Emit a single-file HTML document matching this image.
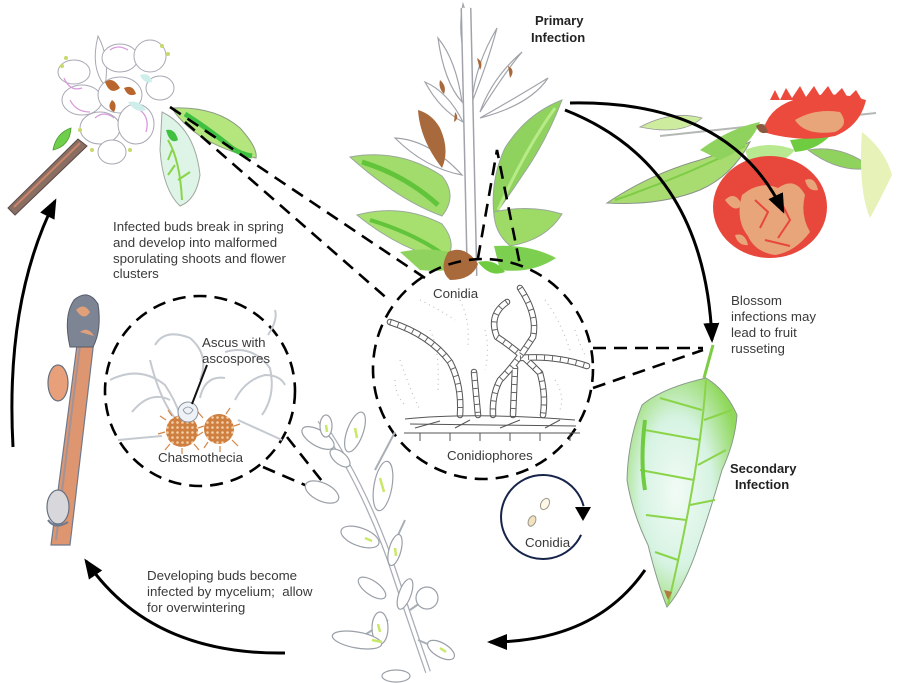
<!DOCTYPE html>
<html><head><meta charset="utf-8">
<style>
html,body{margin:0;padding:0;background:#fff;}
svg{display:block}
text{font-family:"Liberation Sans",Arial,sans-serif;}
.t{font-size:13.3px;fill:#3a3a3a}
.b{font-size:13px;font-weight:bold;fill:#222}
</style></head><body>
<svg width="900" height="683" viewBox="0 0 900 683" xmlns="http://www.w3.org/2000/svg">
<defs>
<marker id="ah" viewBox="0 0 20 16" refX="17" refY="8" markerWidth="20" markerHeight="16" markerUnits="userSpaceOnUse" orient="auto"><path d="M0,0 L20,8 L0,16 z" fill="#000"/></marker>
<pattern id="dots" width="5" height="5" patternUnits="userSpaceOnUse"><rect width="5" height="5" fill="#cf8040"/><circle cx="2.5" cy="2.5" r="1.3" fill="#f3cfa6"/></pattern>
<radialGradient id="leafg" cx="0.45" cy="0.5" r="0.6"><stop offset="0" stop-color="#f2fbf6"/><stop offset="0.55" stop-color="#d6f3e2"/><stop offset="1" stop-color="#8fd85a"/></radialGradient>
</defs>

<!-- ===== Top-left flower cluster ===== -->
<path d="M8,208 L78,139 L87,146 L15,215 Z" fill="#8a6e62" stroke="#5a4a48" stroke-width="1"/>
<path d="M14,207 L80,143" stroke="#c9846a" stroke-width="2"/>
<path d="M53,150 Q56,133 71,128 Q70,146 53,150Z" fill="#6fcf4a" stroke="#4a9a30" stroke-width="0.8"/>
<g fill="#fff" stroke="#a8a8b4" stroke-width="1">
<path d="M98,36 Q110,58 105,86 Q90,68 98,36Z"/>
<ellipse cx="74" cy="72" rx="16" ry="12"/>
<ellipse cx="120" cy="58" rx="18" ry="14"/>
<ellipse cx="150" cy="56" rx="16" ry="16"/>
<ellipse cx="160" cy="88" rx="14" ry="12"/>
<ellipse cx="82" cy="100" rx="20" ry="15"/>
<ellipse cx="120" cy="95" rx="22" ry="18"/>
<ellipse cx="100" cy="128" rx="20" ry="16"/>
<ellipse cx="136" cy="124" rx="18" ry="20"/>
<ellipse cx="112" cy="152" rx="14" ry="12"/>
</g>
<g fill="none" stroke="#d99adc" stroke-width="1.3">
<path d="M64,78 Q70,92 82,88"/><path d="M110,50 Q118,44 128,50"/><path d="M95,118 Q104,110 114,118"/><path d="M140,110 Q150,118 146,132"/><path d="M70,100 Q76,112 90,112"/>
</g>
<path d="M105,82 Q113,76 120,88 Q110,96 105,82Z" fill="#b8662e"/>
<path d="M124,88 Q133,84 136,94 Q128,98 124,88Z" fill="#b8662e"/>
<path d="M112,100 Q118,104 114,112 Q106,108 112,100Z" fill="#b8662e"/>
<path d="M128,102 Q140,100 146,110 Q136,114 128,102Z" fill="#cdeeea"/>
<path d="M140,75 Q150,72 152,82 Q144,84 140,75Z" fill="#cdeeea"/>
<g fill="#c9d86a"><circle cx="62" cy="66" r="2"/><circle cx="66" cy="58" r="2"/><circle cx="162" cy="46" r="2"/><circle cx="168" cy="54" r="2"/><circle cx="130" cy="150" r="2"/><circle cx="92" cy="150" r="2"/><circle cx="80" cy="130" r="2"/></g>
<path d="M162,112 Q195,128 200,175 Q196,200 180,206 Q163,190 160,150 Z" fill="#ddf4e6" stroke="#a0a8a0" stroke-width="1"/>
<path d="M168,140 Q180,160 182,200 M175,165 L168,175 M178,180 L190,172 M172,150 L168,160" stroke="#8ad44a" stroke-width="2" fill="none"/>
<path d="M166,130 Q175,128 178,140 Q170,145 166,130Z" fill="#3fc040"/>
<path d="M172,108 Q215,106 240,128 Q258,148 256,158 Q226,152 200,136 Q180,122 172,108Z" fill="#b5e67e" stroke="#8a9a80" stroke-width="1"/>
<path d="M185,114 Q210,130 232,148 Q240,154 252,156" stroke="#3fc040" stroke-width="5" fill="none"/>

<!-- ===== Primary infection shoot ===== -->
<g fill="#fff" stroke="#a0a4aa" stroke-width="1.2">
<path d="M463,4 Q472,30 467,62 Q457,35 463,4Z"/>
<path d="M438,38 Q456,60 462,102 Q444,82 438,38Z"/>
<path d="M497,28 Q488,62 472,102 Q475,65 497,28Z"/>
<path d="M425,82 Q448,92 463,122 Q440,110 425,82Z"/>
<path d="M522,52 Q505,72 480,112 Q492,78 522,52Z"/>
<path d="M480,118 Q512,100 548,78 Q530,105 480,118Z"/>
<path d="M395,138 Q430,140 462,175 Q425,168 395,138Z"/>
<path d="M505,150 Q535,130 548,112 Q545,150 505,150Z"/>
</g>
<path d="M418,110 Q420,140 442,168 Q450,150 440,128 Q432,114 418,110Z" fill="#a8693c"/>
<g fill="#a8693c"><path d="M440,80 Q447,86 444,94 Q438,88 440,80Z"/><path d="M477,58 Q484,62 480,70Z"/><path d="M508,66 Q516,70 510,78Z"/><path d="M455,112 Q460,118 454,122Z"/></g>
<path d="M350,157 Q400,148 442,176 Q458,196 442,216 Q398,200 350,157Z" fill="#a2dc6c" stroke="#9aa89a" stroke-width="1"/>
<path d="M362,162 Q405,175 438,205" stroke="#62c43a" stroke-width="5" fill="none"/>
<path d="M357,215 Q402,203 442,224 Q458,244 446,260 Q400,250 357,215Z" fill="#a8e070" stroke="#9aa89a" stroke-width="1"/>
<path d="M370,220 Q410,232 440,252" stroke="#62c43a" stroke-width="4" fill="none"/>
<path d="M400,252 Q440,244 470,260 Q456,274 420,270Z" fill="#8fd35e"/>
<path d="M562,100 Q546,142 522,176 Q506,200 494,216 Q490,180 505,148 Q526,114 562,100Z" fill="#8fd35e" stroke="#9aa89a" stroke-width="1"/>
<path d="M555,108 Q525,150 498,210" stroke="#b8ea88" stroke-width="3" fill="none"/>
<path d="M494,212 Q530,204 562,214 Q546,240 510,246 Q494,232 494,212Z" fill="#9ddb66" stroke="#9aa89a" stroke-width="1"/>
<path d="M494,246 Q530,244 556,258 Q532,274 500,270Z" fill="#7dcf50"/>
<path d="M466,8 C468,80 470,180 472,276" stroke="#a0a4aa" stroke-width="11" fill="none"/>
<path d="M466,8 C468,80 470,180 472,276" stroke="#fff" stroke-width="8" fill="none"/>
<path d="M448,252 Q465,244 478,264 Q472,280 450,280 Q438,270 448,252Z" fill="#a86a3a"/>
<path d="M478,262 Q495,258 505,272 Q490,278 478,262Z" fill="#6fcb40"/>

<!-- ===== Apple ===== -->
<path d="M660,136 L876,113" stroke="#b4b8b4" stroke-width="2"/>
<path d="M607,203 Q650,174 700,160 Q730,150 750,142 Q732,176 700,190 Q660,206 607,203Z" fill="#a9dc70" stroke="#8a9488" stroke-width="1"/>
<path d="M615,200 Q680,178 745,146" stroke="#7ccd45" stroke-width="2" fill="none"/>
<path d="M640,127 Q672,110 702,118 Q682,136 640,127Z" fill="#cdec9e" stroke="#9a9a9a" stroke-width="0.8"/>
<path d="M700,150 Q730,128 760,122 Q750,148 720,160Z" fill="#8fd35e"/>
<path d="M745,150 Q770,140 795,150 Q780,168 750,165Z" fill="#b8e890"/>
<path d="M808,150 Q842,144 872,168 Q840,174 808,150Z" fill="#8fd35e" stroke="#9a9a9a" stroke-width="0.8"/>
<path d="M790,140 Q815,138 835,130 Q820,150 795,152Z" fill="#6fcb40"/>
<path d="M862,132 Q885,150 892,175 Q880,200 870,218 Q858,190 862,132Z" fill="#e6f2b8"/>
<ellipse cx="770" cy="207" rx="57" ry="51" fill="#e8473c"/>
<g fill="#e9a57a">
<path d="M742,195 Q760,180 778,188 Q795,176 805,195 Q800,215 810,232 Q795,252 775,255 Q755,252 748,236 Q735,220 742,195Z"/>
<path d="M725,200 Q735,190 742,205 Q735,214 725,200Z"/>
<path d="M805,180 Q815,176 818,190 Q808,192 805,180Z"/>
<path d="M735,235 Q745,232 748,245 Q738,246 735,235Z"/>
</g>
<g fill="none" stroke="#e8473c" stroke-width="2">
<path d="M755,200 L768,212 L760,228"/><path d="M780,200 L790,220 L778,238"/><path d="M765,240 L790,246"/>
</g>
<path d="M763,132 Q768,106 800,98 Q835,90 866,100 Q860,126 835,136 Q800,143 763,132Z" fill="#ec4a3c"/>
<path d="M770,100 L775,90 L780,100 L786,88 L792,98 L800,86 L806,97 L814,86 L820,96 L828,86 L834,96 L842,88 L848,98 L856,90 L862,100Z" fill="#ec4a3c"/>
<path d="M795,120 Q815,108 840,112 Q850,125 835,132 Q805,136 795,120Z" fill="#e9a57a"/>
<path d="M756,126 Q764,120 768,132 Q760,136 756,126Z" fill="#8a5a40"/>

<!-- ===== Left twig ===== -->
<path d="M51,545 L70,545 L94,340 L78,337 Z" fill="#dd9670" stroke="#6d7a90" stroke-width="1.2"/>
<path d="M56,540 L80,345" stroke="#8a92a8" stroke-width="2" fill="none" opacity="0.7"/>
<path d="M70,347 Q63,316 74,300 Q88,288 98,304 Q102,330 93,347 Z" fill="#7d8494" stroke="#555b68" stroke-width="1"/>
<path d="M76,310 Q84,302 90,312 Q84,322 76,310Z" fill="#e0a07a"/>
<path d="M80,332 Q88,326 94,336Z" fill="#e0a07a"/>
<ellipse cx="58" cy="383" rx="10" ry="18" fill="#e8a07a" stroke="#667080" stroke-width="1.2"/>
<ellipse cx="58" cy="507" rx="11" ry="17" fill="#d8d8dc" stroke="#667080" stroke-width="1.2"/>
<path d="M48,520 Q55,530 68,522" stroke="#6d7a90" stroke-width="2" fill="none"/>

<!-- ===== Dashed connectors ===== -->
<g stroke="#000" stroke-width="2.6" fill="none" stroke-dasharray="13 8">
<path d="M170,107 L425,278"/>
<path d="M185,122 L390,301"/>
<path d="M478,258 L497,150 L520,265"/>
<circle cx="483" cy="369" r="110"/>
<circle cx="200" cy="391" r="95"/>
<path d="M593,348 L703,348"/>
<path d="M593,388 L703,350"/>
<path d="M287,437 L337,500"/>
<path d="M263,467 L333,497"/>
</g>

<!-- ===== Left circle content ===== -->
<g fill="none" stroke="#c5cad0" stroke-width="2">
<path d="M110,380 Q140,365 165,385 Q175,400 180,415"/>
<path d="M155,345 Q165,328 190,338 Q210,355 200,380"/>
<path d="M225,352 Q252,344 270,368 Q276,395 262,415"/>
<path d="M132,412 Q150,390 170,400"/>
<path d="M238,420 Q260,430 282,440"/>
<path d="M235,400 Q245,380 265,375 Q280,375 285,385"/>
<path d="M150,360 Q160,400 175,418"/>
<path d="M162,436 L118,440"/>
<path d="M200,398 Q205,375 225,378"/>
<path d="M268,335 Q278,320 275,310"/>
</g>
<g stroke="#d4874a" stroke-width="1.2">
<path d="M166,420 L160,416 M165,432 L158,434 M170,444 L165,450 M182,448 L182,454 M194,444 L199,450 M198,428 L204,426 M172,416 L168,410"/>
<path d="M203,418 L198,412 M203,432 L197,436 M208,442 L204,448 M220,446 L220,452 M232,440 L238,446 M234,426 L240,424 M226,414 L230,408"/>
</g>
<circle cx="182" cy="431" r="16" fill="url(#dots)"/>
<circle cx="219" cy="429" r="15" fill="url(#dots)"/>
<circle cx="188" cy="412" r="10" fill="#eef2f6" stroke="#8890a0" stroke-width="1"/>
<path d="M183,410 Q188,404 193,410 Q188,418 183,410" fill="none" stroke="#8890a0" stroke-width="0.8"/>
<path d="M207,365 L192,404" stroke="#111" stroke-width="2"/>

<!-- ===== Center circle content ===== -->
<g fill="none" stroke="#c0c0c0" stroke-width="1.2" stroke-dasharray="1 4">
<path d="M400,360 Q410,390 420,410"/><path d="M430,330 Q440,350 438,390"/><path d="M460,300 Q470,320 468,345"/>
<path d="M545,300 Q560,320 570,350"/><path d="M555,380 Q565,395 560,410"/><path d="M420,300 Q440,310 455,320"/>
<path d="M395,380 Q395,395 405,405"/><path d="M575,330 Q580,345 585,355"/><path d="M485,330 Q490,350 485,370"/>
</g>
<g fill="none" stroke="#555" stroke-width="6.5" stroke-linecap="round">
<path d="M390,322 Q430,335 450,362 Q462,385 460,415"/>
<path d="M474,372 L478,415"/>
<path d="M507,302 Q488,315 497,337 Q520,352 540,373 Q546,395 543,415"/>
<path d="M520,288 Q538,315 533,337 Q515,365 500,380 Q492,395 493,415"/>
<path d="M520,358 Q555,355 587,366"/>
<path d="M515,368 L513,415"/>
</g>
<g fill="none" stroke="#fff" stroke-width="4.5" stroke-linecap="round">
<path d="M390,322 Q430,335 450,362 Q462,385 460,415"/>
<path d="M474,372 L478,415"/>
<path d="M507,302 Q488,315 497,337 Q520,352 540,373 Q546,395 543,415"/>
<path d="M520,288 Q538,315 533,337 Q515,365 500,380 Q492,395 493,415"/>
<path d="M520,358 Q555,355 587,366"/>
<path d="M515,368 L513,415"/>
</g>
<g fill="none" stroke="#666" stroke-width="5" stroke-dasharray="1 7">
<path d="M390,322 Q430,335 450,362 Q462,385 460,415"/>
<path d="M474,372 L478,415"/>
<path d="M507,302 Q488,315 497,337 Q520,352 540,373 Q546,395 543,415"/>
<path d="M520,288 Q538,315 533,337 Q515,365 500,380 Q492,395 493,415"/>
<path d="M520,358 Q555,355 587,366"/>
<path d="M515,368 L513,415"/>
</g>
<g fill="none" stroke="#555" stroke-width="1">
<path d="M405,419 Q470,412 575,420"/>
<path d="M410,424 L576,426"/>
<path d="M404,433 L580,433"/>
<path d="M420,433 L420,441 M450,433 L450,441 M480,433 L480,441 M510,433 L510,441 M540,433 L540,441 M570,433 L570,441"/>
<path d="M415,428 L440,421 M455,428 L470,420 M500,428 L520,420 M545,428 L560,420"/>
</g>

<!-- ===== Bottom center plant ===== -->
<path d="M320,420 Q362,482 390,560 Q410,620 428,672" stroke="#a8aeb6" stroke-width="6" fill="none"/>
<path d="M320,420 Q362,482 390,560 Q410,620 428,672" stroke="#fff" stroke-width="3.5" fill="none"/>
<path d="M375,470 L395,432 M392,548 L405,520 M410,610 L430,596 M388,620 L360,638 M418,640 L442,650" stroke="#a8aeb6" stroke-width="2" fill="none"/>
<g fill="#fff" stroke="#9aa0a8" stroke-width="1.2">
<ellipse cx="318" cy="438" rx="18" ry="8" transform="rotate(30 318 438)"/>
<ellipse cx="326" cy="426" rx="6" ry="11"/>
<ellipse cx="355" cy="432" rx="8" ry="21" transform="rotate(20 355 432)"/>
<ellipse cx="383" cy="486" rx="9" ry="25" transform="rotate(10 383 486)"/>
<ellipse cx="322" cy="492" rx="18" ry="9" transform="rotate(25 322 492)"/>
<ellipse cx="360" cy="537" rx="20" ry="9" transform="rotate(20 360 537)"/>
<ellipse cx="395" cy="550" rx="6" ry="16" transform="rotate(15 395 550)"/>
<ellipse cx="372" cy="588" rx="16" ry="7" transform="rotate(35 372 588)"/>
<ellipse cx="405" cy="594" rx="6" ry="16" transform="rotate(20 405 594)"/>
<circle cx="427" cy="598" r="11"/>
<ellipse cx="380" cy="628" rx="8" ry="16"/>
<ellipse cx="357" cy="640" rx="25" ry="8" transform="rotate(10 357 640)"/>
<ellipse cx="441" cy="650" rx="15" ry="7" transform="rotate(30 441 650)"/>
<ellipse cx="396" cy="676" rx="14" ry="6"/>
<ellipse cx="340" cy="458" rx="12" ry="6" transform="rotate(40 340 458)"/>
</g>
<g stroke="#c8e86a" stroke-width="2.5" fill="none">
<path d="M380,478 L384,492"/><path d="M355,428 L357,438"/><path d="M365,538 L372,541"/><path d="M395,548 L396,556"/><path d="M372,640 L382,642"/><path d="M440,648 L446,652"/><path d="M378,624 L380,632"/><path d="M326,425 L327,432"/>
</g>

<!-- ===== Secondary leaf ===== -->
<path d="M713,345 L704,378" stroke="#7ccd45" stroke-width="3"/>
<path d="M706,378 Q726,390 737,415 Q735,442 722,470 Q710,512 695,555 Q682,590 667,607 Q658,585 648,545 Q632,512 627,480 Q628,440 642,405 Q662,388 706,378Z" fill="url(#leafg)" stroke="#8a9a8c" stroke-width="1"/>
<g fill="none" stroke="#8bd44a" stroke-width="2">
<path d="M706,380 Q700,470 668,605"/>
<path d="M702,410 L660,398 M700,440 L645,430 M694,480 L640,470 M686,520 L646,515 M678,560 L655,552 M704,420 L732,410 M698,465 L726,450 M690,505 L715,500"/>
</g>
<path d="M645,420 Q640,460 645,490" stroke="#6fcb40" stroke-width="4" fill="none"/>
<path d="M668,600 L664,590 L672,592Z" fill="#b07a40"/>

<!-- ===== Blue conidia cycle ===== -->
<path d="M581.1,534.8 A42,42 0 1 1 583.6,506.1" fill="none" stroke="#17244a" stroke-width="2"/>
<path d="M575,507 L591,507 L583,521Z" fill="#000"/>
<ellipse cx="545" cy="504" rx="4" ry="6" transform="rotate(30 545 504)" fill="#fff8e8" stroke="#998" stroke-width="1"/>
<ellipse cx="532" cy="521" rx="3.5" ry="5.5" transform="rotate(25 532 521)" fill="#f2e2c0" stroke="#998" stroke-width="1"/>

<!-- ===== Big arrows ===== -->
<g fill="none" stroke="#000" stroke-width="3" marker-end="url(#ah)">
<path d="M570,103 Q730,100 783,211"/>
<path d="M565,110 Q705,165 712,340"/>
<path d="M13,447 Q5,300 55,201"/>
<path d="M285,653 Q150,655 86,561"/>
<path d="M645,570 Q595,642 490,642"/>
</g>

<!-- ===== Text ===== -->
<text class="b" x="535" y="25">Primary</text>
<text class="b" x="531" y="42">Infection</text>
<text class="t" x="113" y="231">Infected buds break in spring</text>
<text class="t" x="113" y="247">and develop into malformed</text>
<text class="t" x="113" y="263">sporulating shoots and flower</text>
<text class="t" x="113" y="278">clusters</text>
<text class="t" x="731" y="305">Blossom</text>
<text class="t" x="731" y="321">infections may</text>
<text class="t" x="731" y="337">lead to fruit</text>
<text class="t" x="731" y="353">russeting</text>
<text class="t" x="433" y="298">Conidia</text>
<text class="t" x="447" y="460">Conidiophores</text>
<text class="t" x="202" y="347">Ascus with</text>
<text class="t" x="202" y="363">ascospores</text>
<text class="t" x="158" y="462">Chasmothecia</text>
<text class="b" x="730" y="473">Secondary</text>
<text class="b" x="735" y="489">Infection</text>
<text class="t" x="525" y="547">Conidia</text>
<text class="t" x="147" y="580">Developing buds become</text>
<text class="t" x="147" y="596">infected by mycelium;&#160; allow</text>
<text class="t" x="147" y="612">for overwintering</text>
</svg>
</body></html>
